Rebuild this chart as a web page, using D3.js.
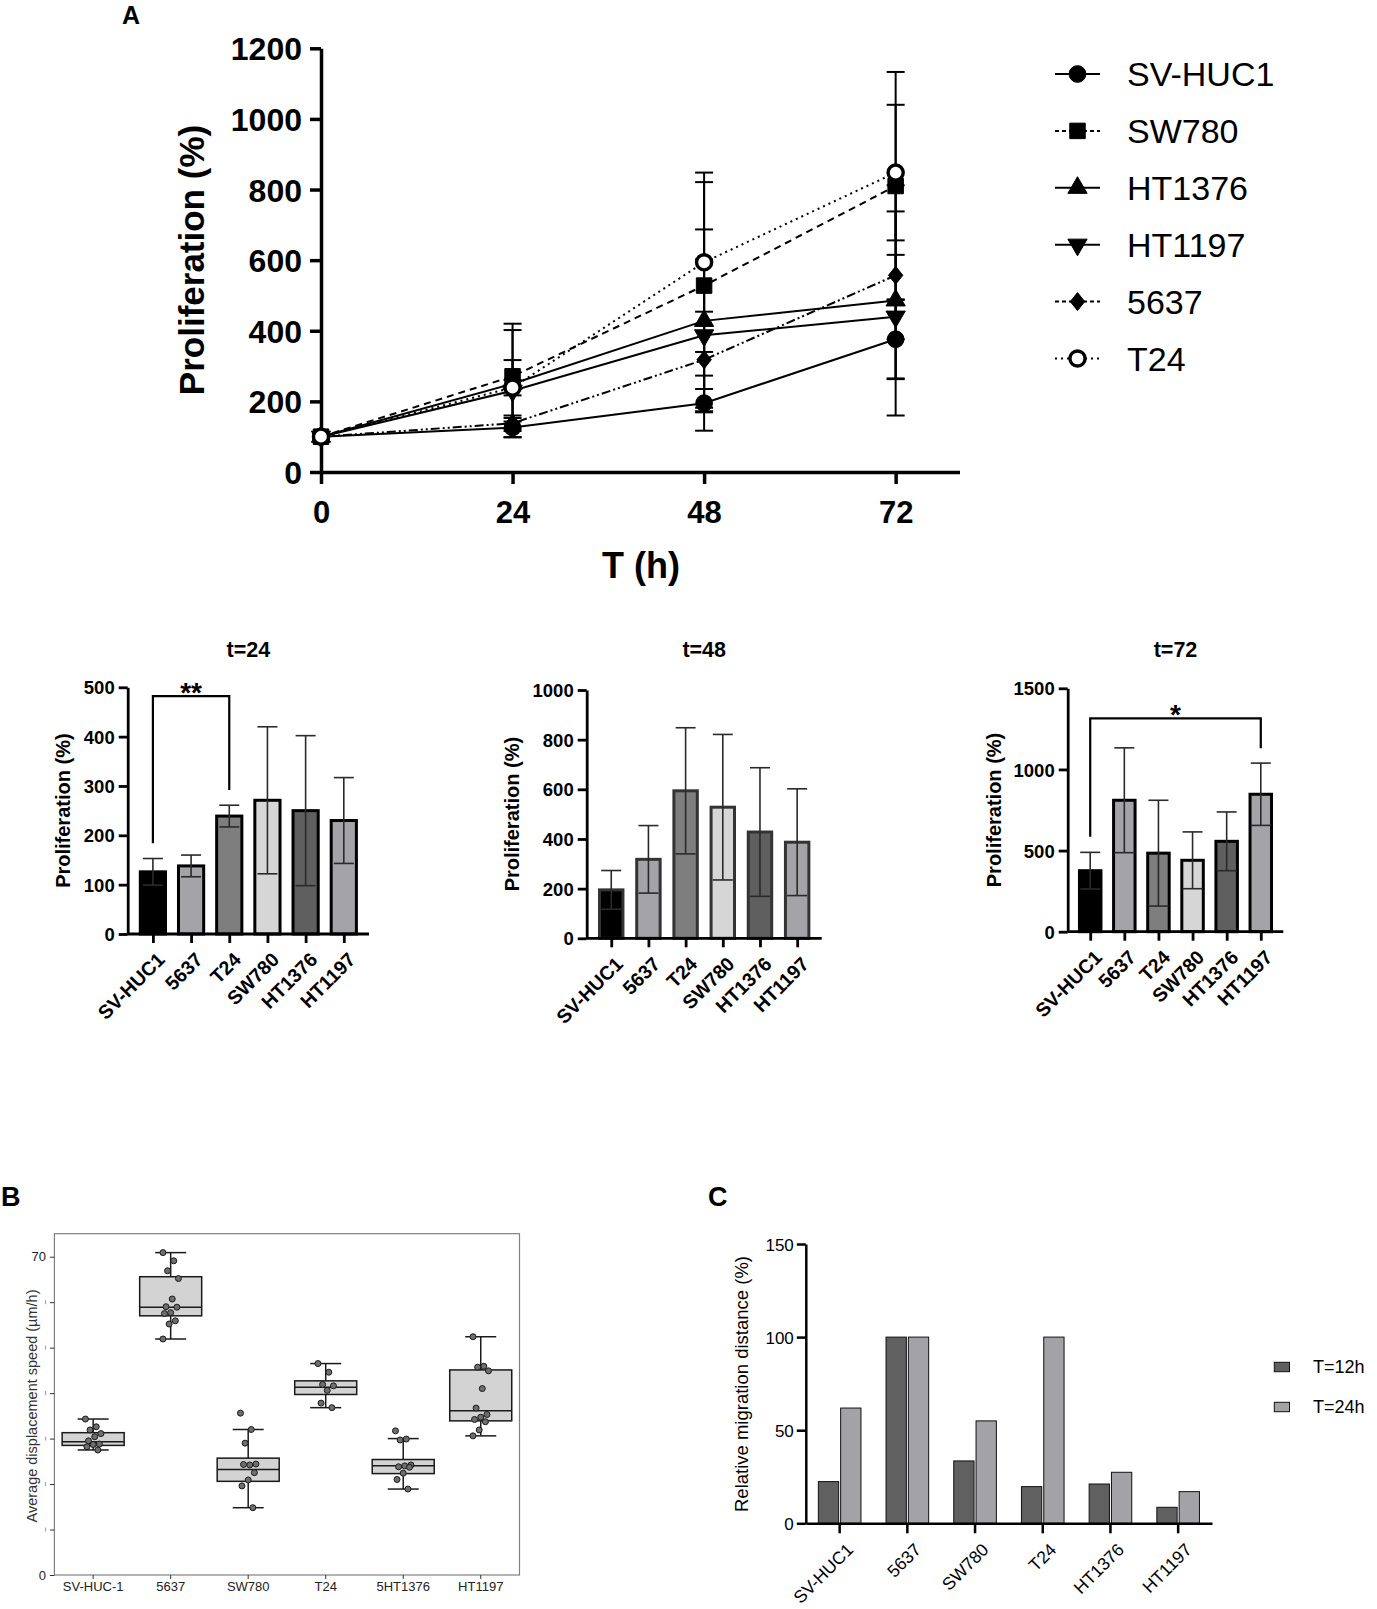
<!DOCTYPE html>
<html lang="en">
<head>
<meta charset="utf-8" />
<title>Proliferation and migration of bladder cell lines</title>
<script src="https://cdn.jsdelivr.net/npm/d3@7"></script>
<style>
  body { margin: 0; background: #fff; }
  svg text { font-family: "Liberation Sans", Arial, Helvetica, sans-serif; }
</style>
</head>
<body>
<svg id="fig" width="1377" height="1609"></svg>
<script>
// ---------- data: panel A (growth curves) ----------
const times = [0, 24, 48, 72];
const lineNames = ["SV-HUC1", "SW780", "HT1376", "HT1197", "5637", "T24"];
const lineMeans = [
  [100, 126, 195, 376],
  [100, 271, 528, 810],
  [100, 250, 428, 486],
  [100, 230, 387, 440],
  [100, 138, 318, 557],
  [100, 239, 594, 848]
];
const lineSds = [
  [0, 27, 78, 113],
  [0, 149, 293, 323],
  [0, 152, 259, 326],
  [0, 87, 215, 175],
  [0, 22, 136, 181],
  [0, 22, 254, 192]
];
const yTicksA = [0, 200, 400, 600, 800, 1000, 1200];

// ---------- data: bar charts at each time point ----------
const barCells = ["SV-HUC1", "5637", "T24", "SW780", "HT1376", "HT1197"];
const t24Mean = [126, 138, 239, 271, 250, 230];
const t24Sd = [27, 22, 22, 149, 152, 87];
const t48Mean = [195, 318, 594, 528, 428, 387];
const t48Sd = [78, 136, 254, 293, 259, 215];
const t72Mean = [376, 810, 484, 440, 557, 847];
const t72Sd = [113, 323, 326, 175, 181, 192];
const t24Ticks = [0, 100, 200, 300, 400, 500];
const t48Ticks = [0, 200, 400, 600, 800, 1000];
const t72Ticks = [0, 500, 1000, 1500];
// significance brackets: [from, to, top, left leg end, right leg end, star height]
const t24Bracket = ["SV-HUC1", "T24", 482, 184, 292, 505];
const t72Bracket = ["SV-HUC1", "HT1197", 1315, 585, 1130, 1385];

// ---------- data: panel B (displacement speed) ----------
const boxCells = ["SV-HUC-1", "5637", "SW780", "T24", "5HT1376", "HT1197"];
// [lower whisker, q1, median, q3, upper whisker]
const boxStats = [
  [27.5, 28.5, 29.3, 31.3, 34.3],
  [51.9, 57.0, 58.9, 65.6, 70.9],
  [14.8, 20.6, 23.2, 25.7, 32.0],
  [36.8, 39.7, 41.3, 42.7, 46.5],
  [18.9, 22.3, 24.0, 25.4, 30.0],
  [30.6, 33.9, 36.1, 45.1, 52.4]
];
const boxPoints = [
  [34.3, 32.6, 31.9, 31.1, 30.4, 29.5, 28.8, 28.7, 28.2, 27.5],
  [70.9, 69.1, 66.9, 65.2, 60.7, 59.0, 58.9, 57.7, 57.5, 55.9, 55.2, 51.9],
  [35.6, 32.0, 29.0, 24.4, 24.2, 24.3, 22.5, 20.9, 19.6, 14.8],
  [46.5, 44.6, 41.9, 41.6, 40.6, 37.8, 36.8],
  [31.7, 29.9, 29.7, 24.2, 24.0, 23.8, 23.7, 22.4, 21.0, 18.9],
  [52.4, 45.9, 45.7, 44.9, 41.0, 36.7, 35.3, 34.7, 34.2, 33.7, 31.9, 30.6]
];
const yTicksB = [0, 10, 20, 30, 40, 50, 60, 70];

// ---------- data: panel C (migration) ----------
const migCells = ["SV-HUC1", "5637", "SW780", "T24", "HT1376", "HT1197"];
const mig12 = [22.4, 100, 33.5, 19.7, 21.1, 8.6];
const mig24 = [61.9, 100, 55.0, 100, 27.4, 17.0];
const migLegend = ["T=12h", "T=24h"];
const yTicksC = [0, 50, 100, 150];

const svg = d3.select("#fig");
const fmt = d3.format("d");

function styleAxis(g, size, weight, color, width) {
  g.attr("font-family", null).attr("font-size", size).attr("font-weight", weight);
  g.selectAll("path.domain").attr("stroke", color).attr("stroke-width", width);
  g.selectAll(".tick line").attr("stroke", color).attr("stroke-width", width);
  g.selectAll(".tick text").attr("fill", "#000");
}

// panel letters
svg.append("text").attr("x", 122).attr("y", 24).attr("font-size", 25).attr("font-weight", "bold").text("A");
svg.append("text").attr("x", 1).attr("y", 1206).attr("font-size", 27).attr("font-weight", "bold").text("B");
svg.append("text").attr("x", 708).attr("y", 1206).attr("font-size", 27).attr("font-weight", "bold").text("C");

// =================== panel A ===================
const xA = d3.scaleLinear().domain([0, 80]).range([321, 959.5]);
const yA = d3.scaleLinear().domain([0, 1200]).range([472, 48.3]);
const gA = svg.append("g");

const dashes = [null, "7,5", null, null, "9,3,2,3,2,3", "2,4"];
const diamond = {
  draw(ctx, size) {
    const h = Math.sqrt(size) * 0.62, w = h * 0.8;
    ctx.moveTo(0, -h); ctx.lineTo(w, 0); ctx.lineTo(0, h); ctx.lineTo(-w, 0); ctx.closePath();
  }
};
const markers = [
  { type: d3.symbolCircle, size: 220, rot: 0, open: false },
  { type: d3.symbolSquare, size: 240, rot: 0, open: false },
  { type: d3.symbolTriangle, size: 160, rot: 0, open: false },
  { type: d3.symbolTriangle, size: 160, rot: 180, open: false },
  { type: diamond, size: 210, rot: 0, open: false },
  { type: d3.symbolCircle, size: 180, rot: 0, open: true }
];

function drawMarker(g, i, x, y) {
  const m = markers[i];
  g.append("path")
    .attr("d", d3.symbol().type(m.type).size(m.size)())
    .attr("transform", `translate(${x},${y}) rotate(${m.rot})`)
    .attr("fill", m.open ? "#fff" : "#000")
    .attr("stroke", "#000")
    .attr("stroke-width", m.open ? 3.4 : 1);
}

const ax = gA.append("g").attr("transform", `translate(0,${yA(0)})`)
  .call(d3.axisBottom(xA).tickValues(times).tickSize(12).tickSizeOuter(0).tickPadding(17).tickFormat(fmt));
styleAxis(ax, 31, "bold", "#000", 3.5);
const ay = gA.append("g").attr("transform", `translate(${xA(0)},0)`)
  .call(d3.axisLeft(yA).tickValues(yTicksA).tickSize(11).tickSizeOuter(0).tickPadding(8).tickFormat(fmt));
styleAxis(ay, 32, "bold", "#000", 3.5);
ay.selectAll(".tick text").attr("dy", "0.36em");

gA.append("text").attr("x", 641).attr("y", 578).attr("text-anchor", "middle")
  .attr("font-size", 36).attr("font-weight", "bold").text("T (h)");
gA.append("text").attr("transform", "translate(204,260) rotate(-90)").attr("text-anchor", "middle")
  .attr("font-size", 35).attr("font-weight", "bold").text("Proliferation (%)");

// error bars
lineMeans.forEach((means, i) => {
  means.forEach((m, j) => {
    const sd = lineSds[i][j];
    if (!sd) return;
    const x = xA(times[j]);
    const eb = gA.append("g").attr("stroke", "#000").attr("stroke-width", 2);
    eb.append("line").attr("x1", x).attr("x2", x).attr("y1", yA(m - sd)).attr("y2", yA(m + sd));
    [m - sd, m + sd].forEach(v => {
      eb.append("line").attr("x1", x - 9).attr("x2", x + 9).attr("y1", yA(v)).attr("y2", yA(v));
    });
  });
});

// lines
const lineGen = d3.line().x((d, j) => xA(times[j])).y(d => yA(d));
lineMeans.forEach((means, i) => {
  gA.append("path").datum(means).attr("d", lineGen)
    .attr("fill", "none").attr("stroke", "#000").attr("stroke-width", 2)
    .attr("stroke-dasharray", dashes[i]);
});
lineMeans.forEach((means, i) => {
  means.forEach((m, j) => drawMarker(gA, i, xA(times[j]), yA(m)));
});

// legend
const legA = gA.append("g");
lineNames.forEach((name, i) => {
  const y = 74 + i * 56.9;
  legA.append("line").attr("x1", 1055).attr("x2", 1100).attr("y1", y).attr("y2", y)
    .attr("stroke", "#000").attr("stroke-width", 2).attr("stroke-dasharray", dashes[i] ? (i === 5 ? "2,4" : "4,3") : null);
  drawMarker(legA, i, 1077.5, y);
  legA.append("text").attr("x", 1127).attr("y", y).attr("dy", "0.36em")
    .attr("font-size", 34).text(name);
});

// =================== bar charts ===================
const barFills = ["#000", "#a3a3a8", "#7e7e7e", "#d6d6d6", "#5f5f5f", "#a3a3a8"];

function barChart(cfg) {
  const g = svg.append("g");
  const x = d3.scalePoint().domain(barCells).range([cfg.x0, cfg.x1]).padding(0.66);
  const y = d3.scaleLinear().domain([0, cfg.ticks[cfg.ticks.length - 1]]).range([cfg.y0, cfg.yTop]);
  const bw = x.step() * cfg.bw;

  g.selectAll("rect").data(cfg.means).join("rect")
    .attr("x", (d, i) => x(barCells[i]) - bw / 2)
    .attr("y", d => y(d))
    .attr("width", bw)
    .attr("height", d => y(0) - y(d))
    .attr("fill", (d, i) => barFills[i])
    .attr("stroke", cfg.stroke).attr("stroke-width", 3);

  cfg.means.forEach((m, i) => {
    const cx = x(barCells[i]), sd = cfg.sds[i];
    const eb = g.append("g").attr("stroke", "#2a2a2a").attr("stroke-width", 1.6);
    eb.append("line").attr("x1", cx).attr("x2", cx).attr("y1", y(m - sd)).attr("y2", y(m + sd));
    [m - sd, m + sd].forEach(v => {
      eb.append("line").attr("x1", cx - 10).attr("x2", cx + 10).attr("y1", y(v)).attr("y2", y(v));
    });
  });

  const gx = g.append("g").attr("transform", `translate(0,${cfg.y0})`)
    .call(d3.axisBottom(x).tickSize(9).tickSizeOuter(0).tickFormat(""));
  styleAxis(gx, 18, "bold", "#000", 2.8);
  gx.select("path.domain").attr("d", `M${cfg.x0},0H${cfg.x1}`);
  barCells.forEach(c => {
    g.append("text")
      .attr("transform", `translate(${x(c) + 3},${cfg.y0 + 17}) rotate(-45)`)
      .attr("text-anchor", "end").attr("dy", "0.72em")
      .attr("font-size", 19.5).attr("font-weight", "bold").text(c);
  });

  const gy = g.append("g").attr("transform", `translate(${cfg.x0},0)`)
    .call(d3.axisLeft(y).tickValues(cfg.ticks).tickSize(9).tickSizeOuter(0).tickPadding(4).tickFormat(fmt));
  styleAxis(gy, 18.5, "bold", "#000", 2.8);
  gy.selectAll(".tick text").attr("dy", "0.36em");

  g.append("text").attr("x", (cfg.x0 + cfg.x1) / 2).attr("y", 657).attr("text-anchor", "middle")
    .attr("font-size", 21.5).attr("font-weight", "bold").text(cfg.title);
  g.append("text")
    .attr("transform", `translate(${cfg.labelX},${(cfg.y0 + cfg.yTop) / 2}) rotate(-90)`)
    .attr("text-anchor", "middle").attr("font-size", 20).attr("font-weight", "bold")
    .text("Proliferation (%)");

  if (cfg.bracket) {
    const [a, b, top, la, lb, star] = cfg.bracket;
    g.append("path")
      .attr("d", `M${x(a)},${y(la)}V${y(top)}H${x(b)}V${y(lb)}`)
      .attr("fill", "none").attr("stroke", "#000").attr("stroke-width", 2.2);
    g.append("text").attr("x", (x(a) + x(b)) / 2).attr("y", y(star)).attr("dy", "0.6em")
      .attr("text-anchor", "middle").attr("font-size", 28).attr("font-weight", "bold")
      .text(cfg.stars);
  }
}

barChart({ title: "t=24", means: t24Mean, sds: t24Sd, ticks: t24Ticks, x0: 127.7, x1: 369,
  y0: 934, yTop: 687.3, bw: 0.66, stroke: "#000", labelX: 70, bracket: t24Bracket, stars: "**" });
barChart({ title: "t=48", means: t48Mean, sds: t48Sd, ticks: t48Ticks, x0: 586.7, x1: 821.7,
  y0: 938.3, yTop: 690, bw: 0.63, stroke: "#333", labelX: 519 });
barChart({ title: "t=72", means: t72Mean, sds: t72Sd, ticks: t72Ticks, x0: 1067.7, x1: 1283.3,
  y0: 931.7, yTop: 688.3, bw: 0.63, stroke: "#000", labelX: 1001, bracket: t72Bracket, stars: "*" });

// =================== panel B ===================
const xB = d3.scaleBand().domain(boxCells).range([54.4, 519.5]).padding(0);
const yB = d3.scaleLinear().domain([0, 75.06]).range([1575, 1233.7]);
const gB = svg.append("g");
gB.append("rect").attr("x", 54.4).attr("y", 1233.7).attr("width", 465.1).attr("height", 341.3)
  .attr("fill", "#fff").attr("stroke", "#808080").attr("stroke-width", 1.2);

const byAx = gB.append("g").attr("transform", "translate(54.4,0)")
  .call(d3.axisLeft(yB).tickValues(yTicksB).tickSize(4.5).tickSizeOuter(0).tickPadding(4)
    .tickFormat(d => (d === 0 || d === 70) ? d : ""));
styleAxis(byAx, 13, "normal", "#333", 1);
byAx.select("path.domain").remove();
byAx.selectAll(".tick text").attr("fill", "#222");
// faded placeholder marks where the intermediate labels sit
yTicksB.filter(d => d !== 0 && d !== 70).forEach(d => {
  gB.append("line").attr("x1", 45.6).attr("x2", 45.6).attr("y1", yB(d) - 2).attr("y2", yB(d) + 2)
    .attr("stroke", "#9a9a9a").attr("stroke-width", 1);
});
const bxAx = gB.append("g").attr("transform", "translate(0,1575)")
  .call(d3.axisBottom(xB).tickSize(4).tickSizeOuter(0).tickPadding(3));
styleAxis(bxAx, 13, "normal", "#333", 1);
bxAx.select("path.domain").remove();
bxAx.selectAll(".tick text").attr("fill", "#222");

gB.append("text").attr("transform", "translate(37,1406) rotate(-90)").attr("text-anchor", "middle")
  .attr("font-size", 14.5).attr("fill", "#333").text("Average displacement speed (\u00b5m/h)");

boxStats.forEach((s, i) => {
  const cx = xB(boxCells[i]) + xB.bandwidth() / 2;
  const bw = xB.bandwidth() * 0.8, cw = xB.bandwidth() * 0.4;
  const g = gB.append("g").attr("stroke", "#1a1a1a").attr("stroke-width", 1.5);
  g.append("line").attr("x1", cx).attr("x2", cx).attr("y1", yB(s[0])).attr("y2", yB(s[4]));
  [s[0], s[4]].forEach(v => g.append("line").attr("x1", cx - cw / 2).attr("x2", cx + cw / 2)
    .attr("y1", yB(v)).attr("y2", yB(v)));
  g.append("rect").attr("x", cx - bw / 2).attr("y", yB(s[3])).attr("width", bw)
    .attr("height", yB(s[1]) - yB(s[3])).attr("fill", "#d3d3d3");
  g.append("line").attr("x1", cx - bw / 2).attr("x2", cx + bw / 2)
    .attr("y1", yB(s[2])).attr("y2", yB(s[2]));
  boxPoints[i].forEach((v, k) => {
    const off = (((k * 7) % 11) - 5) / 5 * xB.bandwidth() * 0.1;
    gB.append("circle").attr("cx", cx + off).attr("cy", yB(v)).attr("r", 3)
      .attr("fill", "#6e6e6e").attr("stroke", "#1a1a1a").attr("stroke-width", 1);
  });
});

// =================== panel C ===================
const xC = d3.scaleBand().domain(migCells).range([805.8, 1212]).padding(0);
const yC = d3.scaleLinear().domain([0, 150]).range([1523.3, 1244]);
const gC = svg.append("g");
const cbw = xC.bandwidth() * 0.3;
const migFills = ["#606060", "#a3a3a7"];
[mig12, mig24].forEach((vals, s) => {
  gC.selectAll(null).data(vals).join("rect")
    .attr("x", (d, i) => xC(migCells[i]) + xC.bandwidth() / 2 + (s === 0 ? -1 - cbw : 1))
    .attr("y", d => yC(d))
    .attr("width", cbw)
    .attr("height", d => yC(0) - yC(d))
    .attr("fill", migFills[s]).attr("stroke", "#111").attr("stroke-width", 1);
});
const cyAx = gC.append("g").attr("transform", "translate(805.8,0)")
  .call(d3.axisLeft(yC).tickValues(yTicksC).tickSize(9).tickSizeOuter(0).tickPadding(3).tickFormat(fmt));
styleAxis(cyAx, 17, "normal", "#000", 2.5);
cyAx.selectAll(".tick text").attr("dy", "0.36em");
const cxAx = gC.append("g").attr("transform", `translate(0,${yC(0)})`)
  .call(d3.axisBottom(xC).tickSize(10).tickSizeOuter(0).tickFormat(""));
styleAxis(cxAx, 17, "normal", "#000", 2.5);
migCells.forEach(c => {
  gC.append("text")
    .attr("transform", `translate(${xC(c) + xC.bandwidth() / 2 + 6},${yC(0) + 19}) rotate(-45)`)
    .attr("text-anchor", "end").attr("dy", "0.7em").attr("font-size", 17.5).text(c);
});
gC.append("text").attr("transform", "translate(748,1384) rotate(-90)").attr("text-anchor", "middle")
  .attr("font-size", 18.5).text("Relative migration distance (%)");
migLegend.forEach((name, s) => {
  const y = 1367 + s * 40;
  gC.append("rect").attr("x", 1274.3).attr("y", y - 4.7).attr("width", 15.2).attr("height", 9.4)
    .attr("fill", migFills[s]).attr("stroke", "#111").attr("stroke-width", 1);
  gC.append("text").attr("x", 1313).attr("y", y).attr("dy", "0.36em").attr("font-size", 18).text(name);
});
</script>
</body>
</html>
